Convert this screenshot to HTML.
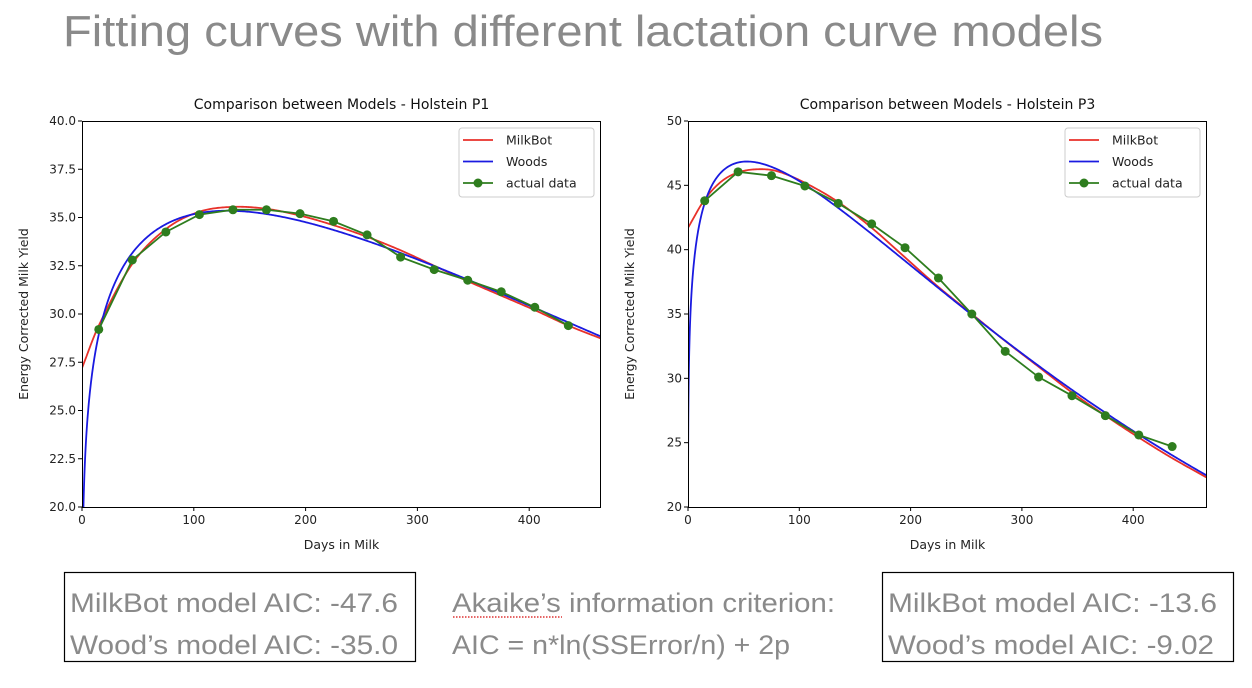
<!DOCTYPE html>
<html><head><meta charset="utf-8"><style>
html,body{margin:0;padding:0;background:#fff;width:1252px;height:688px;overflow:hidden}
svg{display:block}
text{font-family:"DejaVu Sans","Liberation Sans",sans-serif}
.big{font-family:"Liberation Sans",sans-serif;fill:#8a8a8a}
</style></head><body>
<svg id="s" width="1252" height="688" viewBox="0 0 1252 688" xmlns="http://www.w3.org/2000/svg">
<text x="63" y="46" class="big" font-size="44" fill="#7a7a7a" textLength="1040" lengthAdjust="spacingAndGlyphs">Fitting curves with different lactation curve models</text>
<g id="g1"></g><g id="g2"></g>
<rect x="64.5" y="572.5" width="351" height="89" fill="none" stroke="#000" stroke-width="1.2"/>
<text x="70" y="612" class="big" font-size="27" textLength="328" lengthAdjust="spacingAndGlyphs">MilkBot model AIC: -47.6</text>
<text x="70" y="654" class="big" font-size="27" textLength="328" lengthAdjust="spacingAndGlyphs">Wood’s model AIC: -35.0</text>
<text x="452" y="612" class="big" font-size="27" textLength="383" lengthAdjust="spacingAndGlyphs">Akaike’s information criterion:</text>
<line x1="453" y1="617" x2="562" y2="617" stroke="#d33" stroke-width="1.5" stroke-dasharray="1.5,1.5"/>
<text x="452" y="654" class="big" font-size="27" textLength="338" lengthAdjust="spacingAndGlyphs">AIC = n*ln(SSError/n) + 2p</text>
<rect x="882.5" y="572.5" width="351" height="89" fill="none" stroke="#000" stroke-width="1.2"/>
<text x="888" y="612" class="big" font-size="27" textLength="329" lengthAdjust="spacingAndGlyphs">MilkBot model AIC: -13.6</text>
<text x="888" y="654" class="big" font-size="27" textLength="326" lengthAdjust="spacingAndGlyphs">Wood’s model AIC: -9.02</text>
</svg>
<script>
const NS="http://www.w3.org/2000/svg";
function el(p,t,a,txt){const e=document.createElementNS(NS,t);for(const k in a)e.setAttribute(k,a[k]);if(txt!==undefined)e.textContent=txt;p.appendChild(e);return e;}
function spline(pts){return t=>{let i=0;while(i<pts.length-2&&t>pts[i+1][0])i++;
 const p1=pts[i],p2=pts[i+1],p0=pts[Math.max(0,i-1)],p3=pts[Math.min(pts.length-1,i+2)];
 const h=p2[0]-p1[0],u=Math.min(1,Math.max(0,(t-p1[0])/h));
 const m1=(p2[1]-p0[1])/(p2[0]-p0[0])*h,m2=(p3[1]-p1[1])/(p3[0]-p1[0])*h;
 const u2=u*u,u3=u2*u;
 return (2*u3-3*u2+1)*p1[1]+(u3-2*u2+u)*m1+(-2*u3+3*u2)*p2[1]+(u3-u2)*m2;};}
function plot(gid,o){
 const g=document.getElementById(gid);
 const L=o.L,R=L+519,T=121,B=507,xs=o.xs;
 const X=d=>L+d*xs, Y=v=>B-(v-o.ymin)/(o.ymax-o.ymin)*(B-T);
 const clip="c"+gid;
 const cp=el(g,"clipPath",{id:clip});el(cp,"rect",{x:L,y:T,width:519,height:B-T});
 const cg=el(g,"g",{"clip-path":`url(#${clip})`});
 function curve(f,col){let d="";for(let t=0.05;t<=470;t+=(t<5?0.05:1)){const y=f(t);d+=(d?"L":"M")+X(t).toFixed(2)+","+Y(y).toFixed(2);}el(cg,"path",{d,fill:"none",stroke:col,"stroke-width":1.8});}
 curve(o.mb,"#e8312a");
 curve(o.wd,"#1a1ae0");
 let d="";o.data.forEach((v,i)=>{d+=(i?"L":"M")+X(15+30*i)+","+Y(v);});
 el(cg,"path",{d,fill:"none",stroke:"#2e7d1e","stroke-width":1.8});
 o.data.forEach((v,i)=>el(cg,"circle",{cx:X(15+30*i),cy:Y(v),r:4.5,fill:"#2e7d1e"}));
 el(g,"rect",{x:L+0.5,y:T+0.5,width:518,height:B-T,fill:"none",stroke:"#000","stroke-width":1});
 for(let t=0;t<=400;t+=100){el(g,"line",{x1:X(t),x2:X(t),y1:B,y2:B+4,stroke:"#000"});el(g,"text",{x:X(t),y:B+17,"font-size":12,"text-anchor":"middle",fill:"#222"},String(t));}
 o.yt.forEach(v=>{el(g,"line",{x1:L-4,x2:L,y1:Y(v),y2:Y(v),stroke:"#000"});el(g,"text",{x:L-6,y:Y(v)+4,"font-size":12,"text-anchor":"end",fill:"#222"},o.fmt(v));});
 el(g,"text",{x:(L+R)/2,y:549,"font-size":12.5,"text-anchor":"middle",fill:"#222"},"Days in Milk");
 el(g,"text",{x:(L+R)/2,y:109,"font-size":14,"text-anchor":"middle",fill:"#111"},o.title);
 el(g,"text",{x:0,y:0,"font-size":12.5,"text-anchor":"middle",fill:"#222",transform:`translate(${L-54},${(T+B)/2}) rotate(-90)`},"Energy Corrected Milk Yield");
 const lx=R-142;
 el(g,"rect",{x:lx,y:128,width:135,height:69,rx:3,fill:"#fff",stroke:"#ccc"});
 [["MilkBot","#e8312a"],["Woods","#1a1ae0"],["actual data","#2e7d1e"]].forEach((r,i)=>{const y=140+21.5*i;
  el(g,"line",{x1:lx+4,x2:lx+34,y1:y,y2:y,stroke:r[1],"stroke-width":1.8});
  if(i==2)el(g,"circle",{cx:lx+19,cy:y,r:4.5,fill:r[1]});
  el(g,"text",{x:lx+47,y:y+4.5,"font-size":12.5,fill:"#222"},r[0]);});
}
function wood(peak,tp,b){const c=b/tp;return t=>peak*Math.exp(b*Math.log(t/tp)-c*(t-tp));}
plot("g1",{L:82,xs:1.118,ymin:20,ymax:40,yt:[20,22.5,25,27.5,30,32.5,35,37.5,40],fmt:v=>v.toFixed(1),
 title:"Comparison between Models - Holstein P1",
 data:[29.2,32.8,34.25,35.15,35.4,35.4,35.2,34.8,34.1,32.95,32.3,31.75,31.15,30.35,29.4],
 wd:wood(35.35,130,0.157),
 mb:spline([[0,27.2],[15,29.4],[45,32.6],[75,34.4],[105,35.3],[135,35.55],[165,35.45],[195,35.1],[225,34.6],[255,34.0],[285,33.3],[315,32.5],[345,31.7],[375,30.95],[405,30.2],[435,29.4],[470,28.6]])});
plot("g2",{L:688,xs:1.113,ymin:20,ymax:50,yt:[20,25,30,35,40,45,50],fmt:v=>String(v),
 title:"Comparison between Models - Holstein P3",
 data:[43.8,46.05,45.75,44.95,43.6,42.0,40.15,37.8,35.0,32.1,30.1,28.65,27.1,25.6,24.7],
 wd:wood(46.85,53,0.1309),
 mb:spline([[0,41.7],[15,43.9],[30,45.3],[45,46.0],[62,46.25],[80,46.1],[105,45.2],[135,43.7],[165,41.7],[195,39.4],[225,37.1],[255,35.0],[285,32.9],[315,30.9],[345,28.9],[375,27.1],[405,25.4],[435,23.8],[470,22.1]])});
</script>
</body></html>
